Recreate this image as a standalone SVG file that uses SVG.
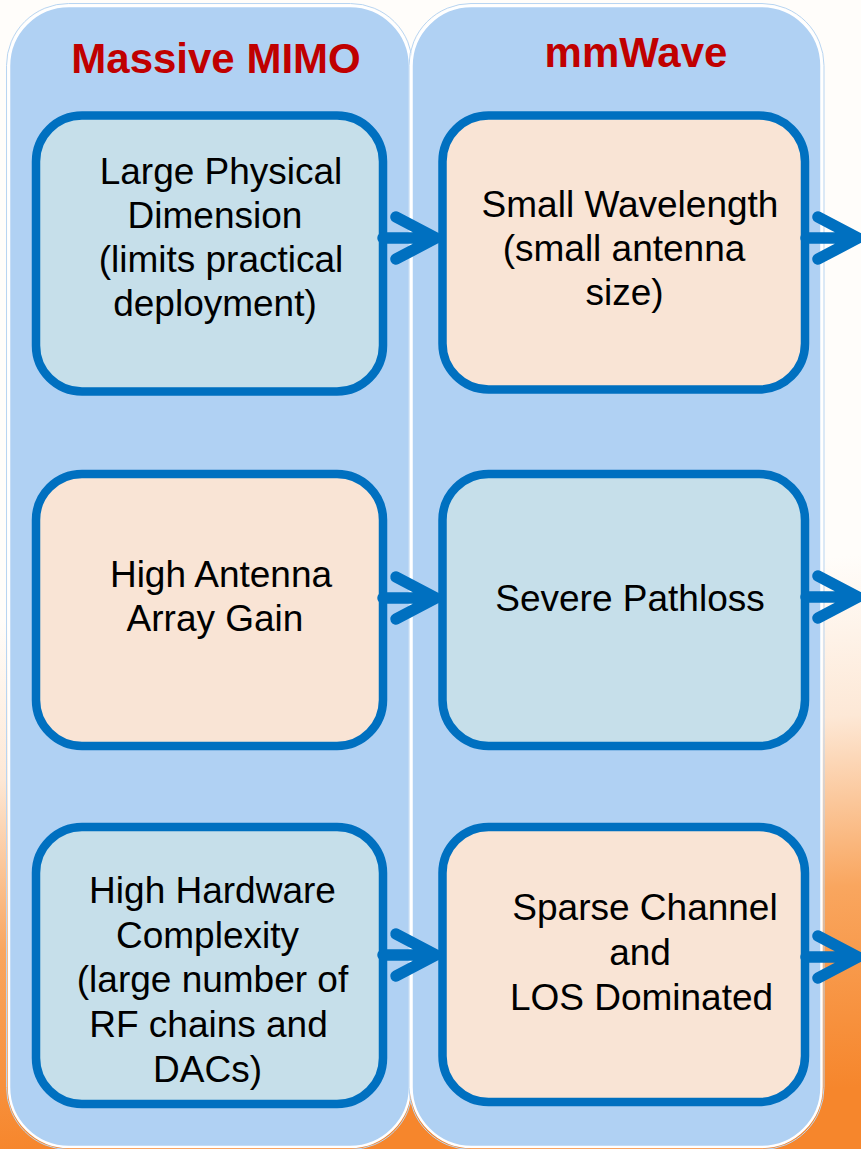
<svg xmlns="http://www.w3.org/2000/svg" width="861" height="1149" viewBox="0 0 861 1149">
<defs>
<linearGradient id="bg" gradientUnits="userSpaceOnUse" x1="0" y1="620" x2="40" y2="1149">
<stop offset="0" stop-color="#fffdfa"/>
<stop offset="0.3" stop-color="#fde8d6"/>
<stop offset="0.62" stop-color="#f9a65f"/>
<stop offset="1" stop-color="#f6862c"/>
</linearGradient>
<style>
.panel{fill:#b0d1f3;stroke:#ffffff;stroke-width:2.5}
.pline{fill:none;stroke:#b8d5f2;stroke-width:1}
.node{stroke:#0070c0;stroke-width:8.5}
.blue{fill:#c6dfea}
.peach{fill:#f9e4d5}
.title{font-family:"Liberation Sans",Arial,sans-serif;font-weight:bold;font-size:42px;fill:#c00000;text-anchor:middle}
.lbl{font-family:"Liberation Sans",Arial,sans-serif;font-size:37px;fill:#000000;text-anchor:middle}
.arr{fill:none;stroke:#0070c0;stroke-width:11.5;stroke-linecap:round;stroke-linejoin:round}
</style>
</defs>
<rect x="0" y="0" width="861" height="1149" fill="url(#bg)"/>

<g id="panel-massive-mimo">
<rect class="pline" x="6.5" y="3.5" width="406" height="1146" rx="62"/>
<rect class="panel" x="9" y="6" width="401" height="1141" rx="60"/>
<text class="title" x="216" y="73">Massive MIMO</text>
</g>
<g id="panel-mmwave">
<rect class="pline" x="409" y="3.5" width="415" height="1146" rx="62"/>
<rect class="panel" x="411.5" y="6" width="410" height="1141" rx="60"/>
<text class="title" x="636" y="67">mmWave</text>
</g>

<g id="node-large-physical">
<rect class="node blue" x="36" y="115.5" width="347" height="276" rx="46"/>
<text class="lbl" x="221" y="184">Large Physical</text>
<text class="lbl" x="215" y="228">Dimension</text>
<text class="lbl" x="221" y="272">(limits practical</text>
<text class="lbl" x="215" y="316">deployment)</text>
</g>
<g id="node-high-gain">
<rect class="node peach" x="36" y="474" width="347" height="272" rx="46"/>
<text class="lbl" x="221" y="587">High Antenna</text>
<text class="lbl" x="215" y="631">Array Gain</text>
</g>
<g id="node-high-hw">
<rect class="node blue" x="36" y="827" width="347" height="277" rx="46"/>
<text class="lbl" x="212.5" y="903">High Hardware</text>
<text class="lbl" x="207.5" y="948">Complexity</text>
<text class="lbl" x="212.5" y="992">(large number of</text>
<text class="lbl" x="208.5" y="1037">RF chains and</text>
<text class="lbl" x="207.5" y="1082">DACs)</text>
</g>
<g id="node-small-wavelength">
<rect class="node peach" x="442.5" y="115.5" width="362.5" height="274" rx="46"/>
<text class="lbl" x="630" y="217">Small Wavelength</text>
<text class="lbl" x="624" y="261">(small antenna</text>
<text class="lbl" x="624.5" y="305">size)</text>
</g>
<g id="node-pathloss">
<rect class="node blue" x="442.5" y="474" width="362.5" height="272" rx="46"/>
<text class="lbl" x="630" y="611">Severe Pathloss</text>
</g>
<g id="node-sparse">
<rect class="node peach" x="442.5" y="827" width="362.5" height="275" rx="46"/>
<text class="lbl" x="645" y="920">Sparse Channel</text>
<text class="lbl" x="640" y="965">and</text>
<text class="lbl" x="641.5" y="1010">LOS Dominated</text>
</g>

<g id="connectors">
<path class="arr" d="M383 238 H434 M396 217 L436 238 L396 259"/>
<path class="arr" d="M383 598 H434 M396 577 L436 598 L396 619"/>
<path class="arr" d="M383 955 H434 M396 934 L436 955 L396 976"/>
<path class="arr" d="M806 238 H856 M818 217 L858 238 L818 259"/>
<path class="arr" d="M806 597 H856 M818 576 L858 597 L818 618"/>
<path class="arr" d="M806 957 H856 M818 936 L858 957 L818 978"/>
</g>
</svg>
